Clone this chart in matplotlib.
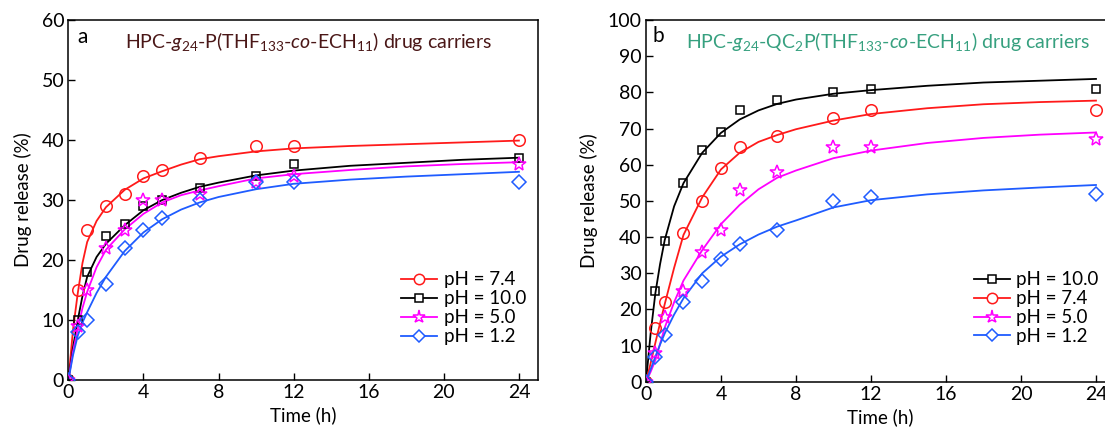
import matplotlib
matplotlib.use('Agg')
import matplotlib.pyplot as plt
from matplotlib.lines import Line2D

plt.rcParams['font.family'] = ['Lato', 'DejaVu Sans']
plt.rcParams['mathtext.fontset'] = 'custom'
plt.rcParams['mathtext.rm'] = 'Lato'
plt.rcParams['mathtext.it'] = 'Lato:italic'

# measured release times (h)
t = [0, 0.5, 1, 2, 3, 4, 5, 7, 10, 12, 24]

# panel a: HPC-g24-P(THF133-co-ECH11)
a_ph74 = [0, 15, 25, 29, 31, 34, 35, 37, 39, 39, 40]
a_ph10 = [0, 10, 18, 24, 26, 29, 30, 32, 34, 36, 37]
a_ph50 = [0, 9, 15, 22, 25, 30, 30, 31, 33, 34, 36]
a_ph12 = [0, 8, 10, 16, 22, 25, 27, 30, 33, 33, 33]

# panel b: HPC-g24-QC2P(THF133-co-ECH11)
b_ph10 = [0, 25, 39, 55, 64, 69, 75, 78, 80, 81, 81]
b_ph74 = [0, 15, 22, 41, 50, 59, 65, 68, 73, 75, 75]
b_ph50 = [0, 8, 18, 25, 36, 42, 53, 58, 65, 65, 67]
b_ph12 = [0, 7, 13, 22, 28, 34, 38, 42, 50, 51, 52]

# fitted curves
fit_t = [0, 0.25, 0.5, 0.75, 1, 1.5, 2, 3, 4, 5, 6, 7, 8, 10, 12, 15, 18, 21, 24]
fa_ph74 = [0, 8.5, 14.5, 19.5, 23.0, 26.5, 28.8, 31.7, 33.6, 34.8, 35.9, 36.8, 37.3, 38.1, 38.6, 39.0, 39.3, 39.6, 39.9]
fa_ph10 = [0, 5.5, 10.0, 14.0, 17.2, 20.5, 22.7, 25.8, 28.3, 30.0, 31.2, 32.2, 32.9, 34.1, 34.9, 35.7, 36.2, 36.7, 37.05]
fa_ph50 = [0, 4.8, 8.6, 12.0, 14.7, 18.8, 21.7, 25.1, 27.7, 29.6, 30.8, 31.6, 32.3, 33.6, 34.3, 35.0, 35.6, 36.0, 36.3]
fa_ph12 = [0, 4.2, 7.4, 9.6, 11.3, 14.5, 17.2, 21.5, 24.6, 26.8, 28.4, 29.6, 30.5, 31.8, 32.7, 33.4, 33.9, 34.3, 34.7]

fb_ph10 = [0, 13.5, 24.5, 32.5, 39.2, 48.5, 54.9, 63.3, 68.8, 72.5, 75.0, 76.8, 78.0, 79.6, 80.6, 81.8, 82.7, 83.2, 83.7]
fb_ph74 = [0, 5.2, 10.8, 16.2, 21.5, 31.5, 40.6, 51.0, 58.7, 63.3, 66.3, 68.2, 69.8, 72.2, 74.0, 75.6, 76.7, 77.3, 77.7]
fb_ph50 = [0, 2.8, 6.0, 10.5, 15.0, 22.0, 28.0, 36.4, 43.6, 48.9, 53.2, 56.4, 58.4, 61.8, 63.9, 66.0, 67.4, 68.3, 68.9]
fb_ph12 = [0, 3.5, 7.0, 10.3, 13.4, 18.6, 23.1, 30.0, 34.6, 38.0, 40.7, 42.9, 44.6, 48.2, 50.2, 51.8, 52.9, 53.7, 54.4]

RED = '#ff1a1a'
BLACK = '#000000'
MAG = '#ff00ff'
BLUE = '#1f5cff'

styles = {
    '7.4': dict(color=RED, marker='o', ms=8.3),
    '10.0': dict(color=BLACK, marker='s', ms=6.3),
    '5.0': dict(color=MAG, marker='*', ms=10.5),
    '1.2': dict(color=BLUE, marker='D', ms=6.8),
}

fig = plt.figure(figsize=(11.05, 4.29), dpi=100)
ax1 = fig.add_axes([0.0619, 0.1142, 0.4247, 0.8392])
ax2 = fig.add_axes([0.5846, 0.1098, 0.4242, 0.8438])


def draw(ax, order, pts, fits):
    handles = []
    for key, y, fy in zip(order, pts, fits):
        st = styles[key]
        ax.plot(fit_t, fy, '-', color=st['color'], lw=1.3, zorder=2)
        ax.plot(t, y, linestyle='none', marker=st['marker'], ms=st['ms'],
                mfc='none', mec=st['color'], mew=1.1, zorder=3)
        handles.append(Line2D([], [], color=st['color'], lw=1.3, marker=st['marker'],
                              ms=st['ms'] * 0.9, mfc='white', mec=st['color'], mew=1.1,
                              label='pH = ' + key))
    return handles


h1 = draw(ax1, ['7.4', '10.0', '5.0', '1.2'],
          [a_ph74, a_ph10, a_ph50, a_ph12], [fa_ph74, fa_ph10, fa_ph50, fa_ph12])
h2 = draw(ax2, ['10.0', '7.4', '5.0', '1.2'],
          [b_ph10, b_ph74, b_ph50, b_ph12], [fb_ph10, fb_ph74, fb_ph50, fb_ph12])

for ax, ymax in [(ax1, 60), (ax2, 100)]:
    ax.set_xlim(0, 25)
    ax.set_ylim(0, ymax)
    ax.set_xticks([0, 4, 8, 12, 16, 20, 24])
    ax.set_yticks(range(0, ymax + 1, 10))
    ax.tick_params(direction='in', length=5, width=1, labelsize=14, pad=3,
                   top=False, right=False)
    for sp in ax.spines.values():
        sp.set_linewidth(1.1)
    ax.set_xlabel('Time (h)', fontsize=13.5, labelpad=4)
    ax.set_ylabel('Drug release (%)', fontsize=13.5, labelpad=7)

ax1.text(0.02, 0.953, 'a', transform=ax1.transAxes, fontsize=15, va='center')
ax2.text(0.013, 0.956, 'b', transform=ax2.transAxes, fontsize=15, va='center')

ax1.text(0.12, 0.939, r'HPC-$\mathit{g}_{24}$-P(THF$_{133}$-$\mathit{co}$-ECH$_{11}$) drug carriers',
         transform=ax1.transAxes, fontsize=14, va='center', color='#4a1717')
ax2.text(0.085, 0.939, r'HPC-$\mathit{g}_{24}$-QC$_{2}$P(THF$_{133}$-$\mathit{co}$-ECH$_{11}$) drug carriers',
         transform=ax2.transAxes, fontsize=14, va='center', color='#36a07f')

leg_kw = dict(loc='lower right', frameon=False, fontsize=13.5, handlelength=1.9,
              handletextpad=0.35, labelspacing=0.1, borderpad=0, borderaxespad=0,
              numpoints=1)
ax1.legend(handles=h1, bbox_to_anchor=(0.975, 0.097), **leg_kw)
ax2.legend(handles=h2, bbox_to_anchor=(0.966, 0.102), **leg_kw)

fig.savefig('out.png', dpi=100)
